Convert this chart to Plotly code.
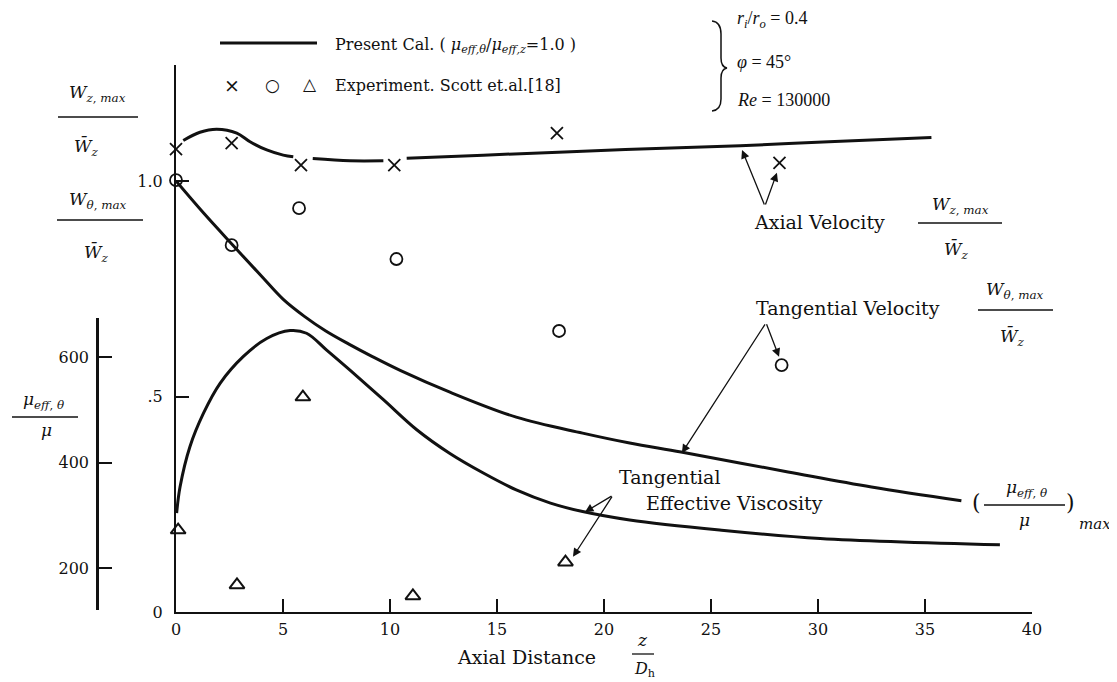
import plotly.graph_objects as go

# ---------------- data ----------------
# Present calculation: axial velocity W_z,max / W_z (gaps where the drawn line breaks at markers)
axial_x = [0.34, 1.12, 1.90, 2.84, 3.46, 4.24, 5.01, 5.48, None, 6.39, 8.13, 9.69, None,
           10.78, 14.36, 21.0, 26.36, 30.5, 35.3]
axial_y = [1.094, 1.113, 1.120, 1.111, 1.091, 1.072, 1.060, 1.056, None, 1.052, 1.047, 1.047, None,
           1.053, 1.060, 1.073, 1.082, 1.091, 1.101]

# Present calculation: tangential velocity W_theta,max / W_z
tang_x = [0, 1.3, 2.66, 4.0, 5.0, 6.0, 7.0, 8.1, 9.2, 10.5, 12.8, 15.9, 19.0, 21.2, 23.6, 28.6, 32.5, 36.7]
tang_y = [1.0, 0.925, 0.851, 0.779, 0.726, 0.686, 0.652, 0.621, 0.592, 0.560, 0.510, 0.452, 0.415,
          0.392, 0.371, 0.325, 0.290, 0.258]

# Present calculation: tangential effective viscosity (mu_eff,theta / mu)_max
visc_x = [0.03, 0.19, 0.65, 1.28, 2.06, 3.15, 4.24, 5.33, 6.1, 7.04, 8.13, 9.69, 11.25, 12.8, 14.36,
          15.9, 17.5, 19.0, 21.2, 25.4, 30.1, 38.5]
visc_v = [304, 354, 430, 493, 550, 601, 635, 650, 645, 613, 575, 519, 462, 417, 380, 348, 323, 307,
          291, 272, 256, 244]

# Experiment, Scott et al. [18]
exp_axial_x = [0.0, 2.6, 5.84, 10.2, 17.8, 28.2]
exp_axial_y = [1.074, 1.088, 1.037, 1.037, 1.111, 1.042]
exp_tang_x = [0.0, 2.6, 5.75, 10.3, 17.9, 28.3]
exp_tang_y = [1.002, 0.851, 0.937, 0.819, 0.652, 0.573]
exp_visc_x = [0.1, 2.85, 5.93, 11.07, 18.2]
exp_visc_v = [272, 168, 524, 147, 211]

# axes ticks
x_ticks = [0, 5, 10, 15, 20, 25, 30, 35, 40]
w_ticks = [0, 0.5, 1.0]
w_ticktext = ["0", ".5", "1.0"]
v_ticks = [200, 400, 600]

# ---------------- styling / layout helpers ----------------
INK = "#111111"
SERIF = "DejaVu Serif"
TIMES = "Liberation Serif"
OFF = 8                      # page body margin of the html page
W, H = 1117 - OFF, 682 - OFF
ML, MT = 176 - 96 - OFF, 65 - OFF
MR = W - (1032 - OFF)
MB = H - (612 - OFF)
PW = W - ML - MR
PH = H - MT - MB


def px(xp):
    """reference-window pixel x -> paper fraction"""
    return (xp - OFF - ML) / PW


def py(yp):
    """reference-window pixel y -> paper fraction"""
    return (H - MB - (yp - OFF)) / PH


annotations = []
shapes = []


def txt(x, y, s, size=17, xanchor="center", family=SERIF):
    annotations.append(dict(x=px(x), y=py(y), xref="paper", yref="paper", text=s,
                            showarrow=False, xanchor=xanchor, yanchor="middle",
                            font=dict(family=family, size=size, color=INK)))


def hbar(x0, x1, y, w=1.3):
    shapes.append(dict(type="line", xref="paper", yref="paper", x0=px(x0), x1=px(x1),
                       y0=py(y), y1=py(y), line=dict(color=INK, width=w)))


def arrow(hx, hy, tx, ty):
    annotations.append(dict(x=hx, y=hy, ax=tx, ay=ty, xref="x", yref="y", axref="x", ayref="y",
                            text="", showarrow=True, arrowhead=2, arrowsize=1.3, arrowwidth=1.3,
                            arrowcolor=INK, standoff=0, startstandoff=0))


WBAR = "<i>W\u0304</i><sub><i>z</i></sub>"

fig = go.Figure()

line_style = dict(color=INK, width=3, shape="spline", smoothing=1.0)
fig.add_trace(go.Scatter(x=axial_x, y=axial_y, mode="lines", line=line_style,
                         connectgaps=False, showlegend=False, hoverinfo="skip"))
fig.add_trace(go.Scatter(x=tang_x, y=tang_y, mode="lines", line=line_style,
                         showlegend=False, hoverinfo="skip"))
fig.add_trace(go.Scatter(x=visc_x, y=visc_v, yaxis="y2", mode="lines", line=line_style,
                         showlegend=False, hoverinfo="skip"))

fig.add_trace(go.Scatter(x=exp_axial_x, y=exp_axial_y, mode="markers", cliponaxis=False,
                         marker=dict(symbol="x-thin-open", size=12, color=INK,
                                     line=dict(color=INK, width=1.8)),
                         showlegend=False))
fig.add_trace(go.Scatter(x=exp_tang_x, y=exp_tang_y, mode="markers", cliponaxis=False,
                         marker=dict(symbol="circle-open", size=12, color=INK, line=dict(color=INK, width=1.8)),
                         showlegend=False))
fig.add_trace(go.Scatter(x=exp_visc_x, y=exp_visc_v, yaxis="y2", mode="markers", cliponaxis=False,
                         marker=dict(symbol="triangle-up-open", size=13, color=INK, line=dict(color=INK, width=2)),
                         showlegend=False))

# ---------------- legend (drawn as text) ----------------
shapes.append(dict(type="line", xref="paper", yref="paper", x0=px(220), x1=px(317),
                   y0=py(43), y1=py(43), line=dict(color=INK, width=3)))
txt(333, 45, "Present Cal. ( <i>μ</i><sub><i>eff,θ</i></sub>/<i>μ</i><sub><i>eff,z</i></sub>=1.0 )",
    size=16, xanchor="left")
txt(232, 85, "×", size=19)
txt(272, 85, "○", size=17)
txt(310, 84, "△", size=17)
txt(333, 85, "Experiment. Scott et.al.[18]", size=16, xanchor="left")

# brace and parameters
bp = [(712, 21), (721, 22), (721, 34), (721, 58), (721, 67), (727, 68), (721, 69), (721, 78),
      (721, 99), (721, 110), (712, 111)]
P = lambda p: f"{px(p[0]):.5f},{py(p[1]):.5f}"
path = (f"M {P(bp[0])} Q {P(bp[1])} {P(bp[2])} L {P(bp[3])} Q {P(bp[4])} {P(bp[5])} "
        f"Q {P(bp[6])} {P(bp[7])} L {P(bp[8])} Q {P(bp[9])} {P(bp[10])}")
shapes.append(dict(type="path", xref="paper", yref="paper", path=path, line=dict(color=INK, width=1.5)))
txt(735, 20, "<i>r</i><sub><i>i</i></sub>/<i>r</i><sub><i>o</i></sub> = 0.4", size=18, xanchor="left", family=TIMES)
txt(735, 62, "<i>φ</i> = 45°", size=18, xanchor="left", family=TIMES)
txt(735, 100, "<i>Re</i> = 130000", size=18, xanchor="left", family=TIMES)

# ---------------- left axis labels ----------------
txt(97, 93, "<i>W</i><sub><i>z</i>, <i>max</i></sub>", size=17)
hbar(58, 138, 117)
txt(86, 147, WBAR, size=17)
txt(98, 200, "<i>W</i><sub><i>θ</i>, <i>max</i></sub>", size=17)
hbar(57, 143, 220)
txt(96, 253, WBAR, size=17)
txt(43, 400, "<i>μ</i><sub><i>eff</i>, <i>θ</i></sub>", size=17)
hbar(12, 78, 417)
txt(46, 430, "<i>μ</i>", size=17)

# ---------------- x title ----------------
txt(455, 657, "Axial Distance", size=19, xanchor="left")
txt(642, 640, "<i>z</i>", size=17)
hbar(632, 654, 654)
txt(644, 669, "<i>D</i><sub>h</sub>", size=16)

# ---------------- curve labels ----------------
txt(752, 222, "Axial Velocity", size=19, xanchor="left")
txt(960, 205, "<i>W</i><sub><i>z</i>, <i>max</i></sub>", size=17)
hbar(918, 1002, 223)
txt(956, 250, WBAR, size=17)

txt(754, 308, "Tangential Velocity", size=19, xanchor="left")
txt(1015, 290, "<i>W</i><sub><i>θ</i>, <i>max</i></sub>", size=17)
hbar(978, 1053, 310)
txt(1012, 337, WBAR, size=17)

txt(670, 477, "Tangential", size=19)
txt(644, 503, "Effective Viscosity", size=19, xanchor="left")

txt(976, 502, "(", size=22)
txt(1026, 488, "<i>μ</i><sub><i>eff</i>, <i>θ</i></sub>", size=17)
hbar(984, 1065, 505)
txt(1024, 520, "<i>μ</i>", size=17)
txt(1070, 502, ")", size=22)
txt(1077, 524, "<i>max</i>", size=15, xanchor="left")

# ---------------- leader arrows ----------------
arrow(26.45, 1.072, 27.52, 0.942)
arrow(28.08, 1.019, 27.52, 0.942)
arrow(23.64, 0.369, 27.57, 0.671)
arrow(28.18, 0.592, 27.57, 0.671)
arrow(19.11, 0.232, 20.42, 0.271)
arrow(18.55, 0.128, 20.42, 0.271)

axis_common = dict(showgrid=False, zeroline=False, showline=True, linecolor=INK, linewidth=2,
                   ticks="inside", ticklen=13, tickwidth=1.5, tickcolor=INK,
                   tickfont=dict(family=SERIF, size=16, color=INK))

fig.update_layout(
    width=W, height=H,
    margin=dict(l=ML, r=MR, t=MT, b=MB, pad=0),
    paper_bgcolor="white", plot_bgcolor="rgba(0,0,0,0)",
    showlegend=False,
    xaxis=dict(domain=[px(176), 1], range=[0, 40], tickvals=x_ticks, anchor="y",
               ticklabelstandoff=2, **axis_common),
    yaxis=dict(domain=[0, 1], range=[0, PH / 431.0], tickvals=w_ticks, ticktext=w_ticktext,
               anchor="x", ticklabelstandoff=8, **axis_common),
    yaxis2=dict(domain=[py(610), py(318)], range=[120.4, 673.9], tickvals=v_ticks,
                anchor="free", position=px(97), side="left", ticklabelstandoff=4, **axis_common),
    annotations=annotations,
    shapes=shapes,
)
fig.update_layout(yaxis2_linewidth=2.5)

fig.write_html("out.html")
